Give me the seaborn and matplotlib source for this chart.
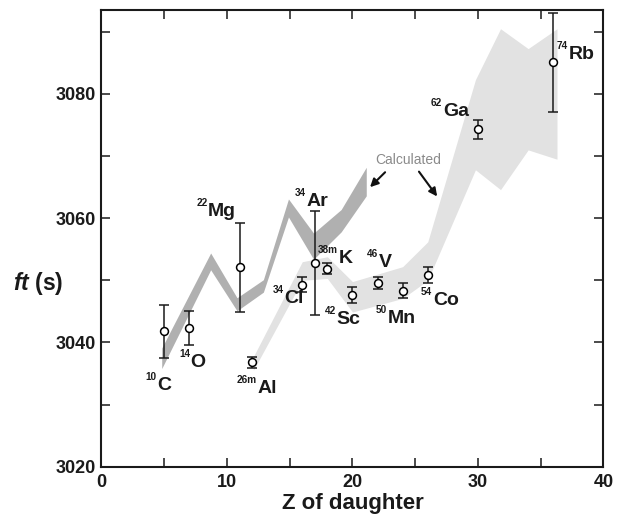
import matplotlib
matplotlib.use("Agg")
import matplotlib.pyplot as plt
from matplotlib.transforms import offset_copy
import numpy as np
import pandas as pd
import seaborn as sns

# measured ft values (superallowed decays), x = Z of daughter
z_daughter = [5, 7, 11, 12, 16, 17, 18, 20, 22, 24, 26, 30, 36]
ft_value = [3041.8, 3042.3, 3052.1, 3036.8, 3049.3, 3052.8, 3051.9, 3047.6,
            3049.6, 3048.3, 3050.8, 3074.3, 3085.1]
ft_err = [4.3, 2.7, 7.2, 0.9, 1.2, 8.3, 0.9, 1.3, 1.0, 1.2, 1.3, 1.5, 8.0]
mass = ["10", "14", "22", "26m", "34", "34", "38m", "42", "46", "50", "54", "62", "74"]
element = ["C", "O", "Mg", "Al", "Cl", "Ar", "K", "Sc", "V", "Mn", "Co", "Ga", "Rb"]

# where each nuclide label sits (left edge / baseline of the element symbol)
label_z = [4.45, 7.1, 8.5, 12.45, 14.55, 16.3, 18.9, 18.75, 22.1, 22.8, 26.4, 27.2, 37.2]
label_ft = [3032.4, 3036.0, 3060.4, 3031.8, 3046.3, 3061.9, 3052.8, 3042.9,
            3052.1, 3043.1, 3046.0, 3076.4, 3085.6]

# calculated bands
dark_z = [4.8, 8.7, 10.8, 12.9, 14.9, 16.9, 19.1, 21.1]
dark_hi = [3039.1, 3054.4, 3047.2, 3050.1, 3063.1, 3057.6, 3061.4, 3068.2]
dark_lo = [3035.8, 3051.7, 3045.1, 3048.1, 3060.2, 3053.4, 3057.8, 3063.6]

light_z = [12.1, 16.0, 18.0, 20.0, 24.0, 26.0, 29.8, 31.8, 34.0, 36.3]
light_hi = [3037.7, 3053.0, 3053.8, 3049.8, 3052.2, 3056.2, 3082.3, 3090.5, 3087.3, 3090.5]
light_lo = [3035.5, 3050.0, 3050.3, 3044.9, 3047.1, 3050.0, 3067.8, 3064.6, 3071.0, 3069.5]

sns.set_style("ticks")
plt.rcParams['font.family'] = ['Liberation Sans', 'DejaVu Sans']
plt.rcParams['mathtext.fontset'] = 'custom'
plt.rcParams['mathtext.it'] = 'Liberation Sans:italic:bold'
plt.rcParams['mathtext.rm'] = 'Liberation Sans:bold'

df = pd.DataFrame({"Z": z_daughter, "ft": ft_value, "err": ft_err})

fig = plt.figure(figsize=(6.17, 5.18), dpi=100)
ax = fig.add_axes([0.1645, 0.099, 0.8135, 0.8815])

ax.fill_between(light_z, light_lo, light_hi, color="#e2e2e2", lw=0, zorder=1)
ax.fill_between(dark_z, dark_lo, dark_hi, color="#b0b0b0", lw=0, zorder=2)

ax.errorbar(df["Z"], df["ft"], yerr=df["err"], fmt="none", ecolor="#1a1a1a",
            elinewidth=1.1, capsize=3.5, capthick=1.1, zorder=3)
sns.scatterplot(data=df, x="Z", y="ft", ax=ax, marker="o", s=32,
                facecolor="white", edgecolor="black", linewidth=1.1, zorder=4)

# nuclide labels: big bold symbol with small raised mass number
sup_tr = offset_copy(ax.transData, fig=fig, x=-0.4, y=7.3, units="points")
for zx, fy, m, el in zip(label_z, label_ft, mass, element):
    ax.text(zx, fy, el, fontsize=14, fontweight="bold", ha="left",
            va="baseline", color="#1a1a1a", zorder=5)
    ax.text(zx, fy, m, fontsize=7.2, fontweight="bold", ha="right",
            va="baseline", color="#1a1a1a", transform=sup_tr, zorder=5)

ax.text(24.45, 3069.3, "Calculated", fontsize=10, color="#8a8a8a",
        ha="center", va="center")
arrow = dict(arrowstyle="-|>", color="#111111", lw=1.5, mutation_scale=12,
             shrinkA=0, shrinkB=0)
ax.annotate("", xy=(21.4, 3065.0), xytext=(22.6, 3067.4), arrowprops=arrow)
ax.annotate("", xy=(26.75, 3063.5), xytext=(25.3, 3067.5), arrowprops=arrow)

ax.set_xlim(0, 40)
ax.set_ylim(3020, 3093.5)
ax.set_xticks([0, 10, 20, 30, 40])
ax.set_xticks([5, 15, 25, 35], minor=True)
ax.set_yticks([3020, 3040, 3060, 3080])
ax.set_yticks([3030, 3050, 3070, 3090], minor=True)
ax.tick_params(which="both", direction="in", length=6.5, width=1.1,
               top=True, right=True, labelsize=13, colors="#1a1a1a")
ax.tick_params(axis="x", pad=5)
ax.tick_params(axis="y", pad=4)
for lab in ax.get_xticklabels() + ax.get_yticklabels():
    lab.set_fontweight("bold")
for sp in ax.spines.values():
    sp.set_linewidth(1.5)
    sp.set_color("#1a1a1a")

ax.set_xlabel("Z of daughter", fontsize=16, fontweight="bold", labelpad=2,
              color="#1a1a1a")
ax.set_ylabel("")
ax.text(-0.176, 0.402, r"$\it{ft}$ (s)", transform=ax.transAxes, fontsize=16.5,
        fontweight="bold", ha="left", va="center", color="#1a1a1a")

fig.savefig("out.png", dpi=100)
